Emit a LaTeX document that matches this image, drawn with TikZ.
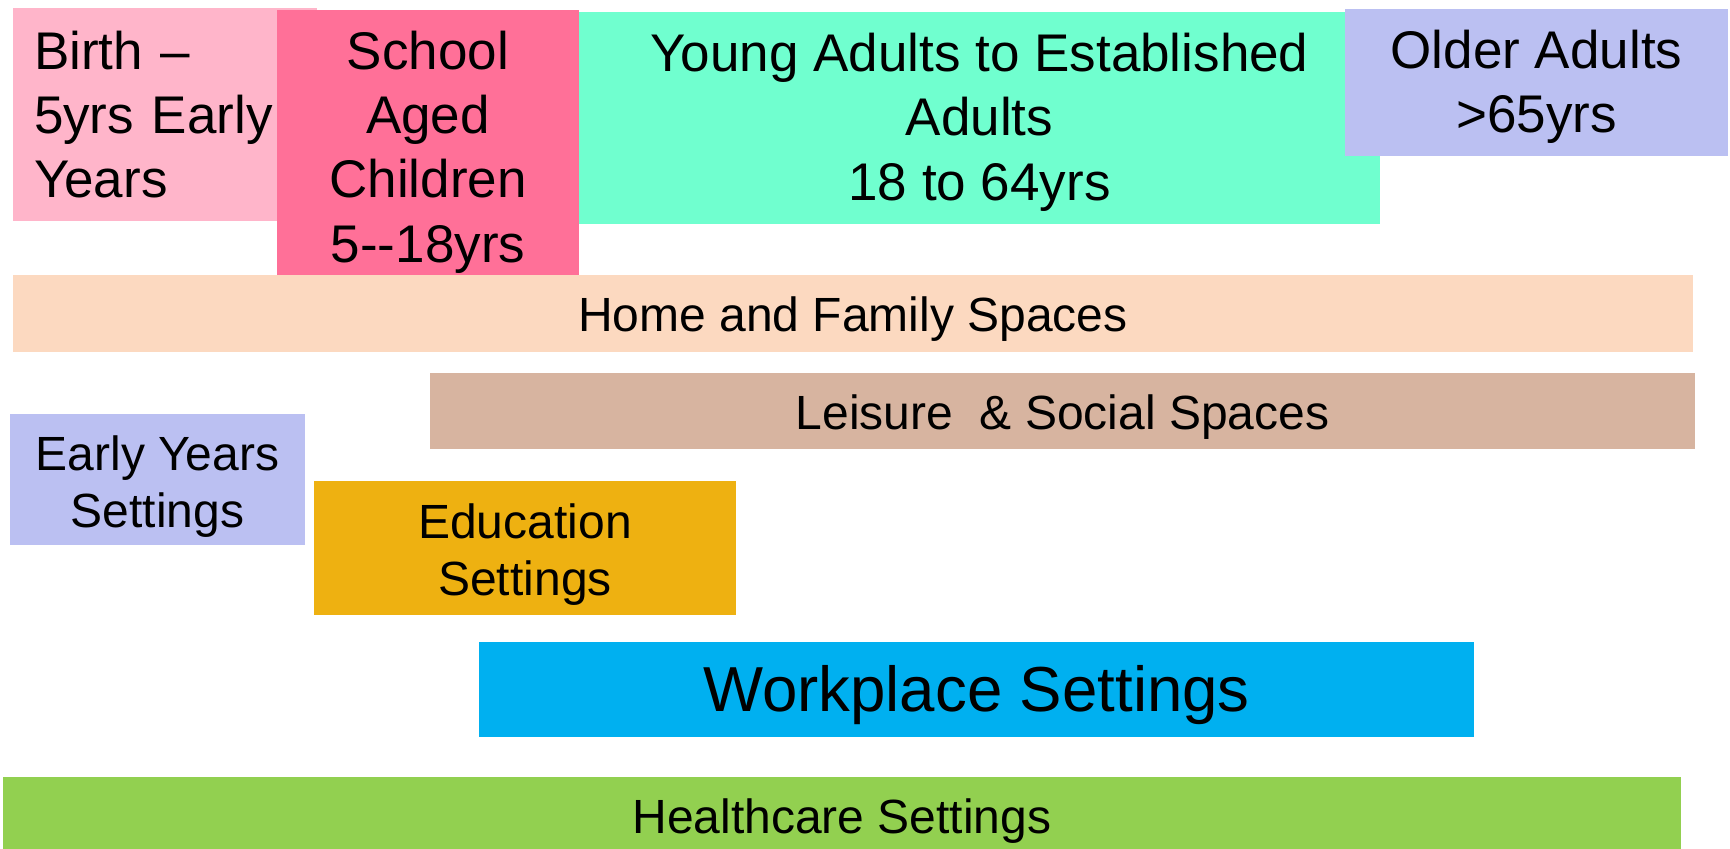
\documentclass[tikz,border=0pt]{standalone}
\usepackage{fontspec}
\setmainfont{Liberation Sans}
\usepackage{xcolor}
\usepackage{tikz}
\definecolor{birthpink}{HTML}{FFB5CA}
\definecolor{schoolpink}{HTML}{FF7098}
\definecolor{adultteal}{HTML}{70FFCF}
\definecolor{olderlilac}{HTML}{BBC0F2}
\definecolor{homepeach}{HTML}{FCD9C0}
\definecolor{leisuretan}{HTML}{D7B4A0}
\definecolor{eduorange}{HTML}{EEB111}
\definecolor{workblue}{HTML}{00B0F0}
\definecolor{healthgreen}{HTML}{92D050}

\begin{document}
\begin{tikzpicture}[x=0.5pt,y=-0.5pt,
  agetext/.style={inner sep=0pt,align=center,
    font=\fontsize{26.5}{32.2}\selectfont},
  bandtext/.style={inner sep=0pt,align=center,
    font=\fontsize{24}{28.5}\selectfont}]
\useasboundingbox (0,0) rectangle (1730,849);
% age groups along the top
\fill[birthpink] (13,8) rectangle (317,221);
\fill[schoolpink] (277,10) rectangle (579,275);
\fill[adultteal] (579,12) rectangle (1380,224);
\fill[olderlilac] (1345,9) rectangle (1728,156);
\node[agetext,text width=131pt,align=left] (birth) at (165,114.5) {Birth --\\5yrs Early\\Years};
\node[agetext] (school) at (428,152) {School\\Aged\\Children\\5-{}-18yrs};
\node[agetext] (adults) at (979.5,122) {Young Adults to Established\\Adults\\18 to 64yrs};
\node[agetext] (older) at (1536.5,87) {Older Adults\\>65yrs};
% settings bands
\fill[homepeach] (13,275) rectangle (1693,352);
\fill[leisuretan] (430,373) rectangle (1695,449);
\fill[olderlilac] (10,414) rectangle (305,545);
\fill[eduorange] (314,481) rectangle (736,615);
\fill[workblue] (479,642) rectangle (1474,737);
\fill[healthgreen] (3,777) rectangle (1681,859);
\node[bandtext] (home) at (853,319) {Home and Family Spaces};
\node[bandtext] (leisure) at (1062.5,417.5) {Leisure\ \ \& Social Spaces};
\node[bandtext] (earlyset) at (157.5,486.5) {Early Years\\Settings};
\node[bandtext] (education) at (525,555) {Education\\Settings};
\node[bandtext,font=\fontsize{31.8}{36}\selectfont] (work) at (976.5,695) {Workplace Settings};
\node[bandtext] (health) at (842,821.5) {Healthcare Settings};
\end{tikzpicture}
\end{document}
